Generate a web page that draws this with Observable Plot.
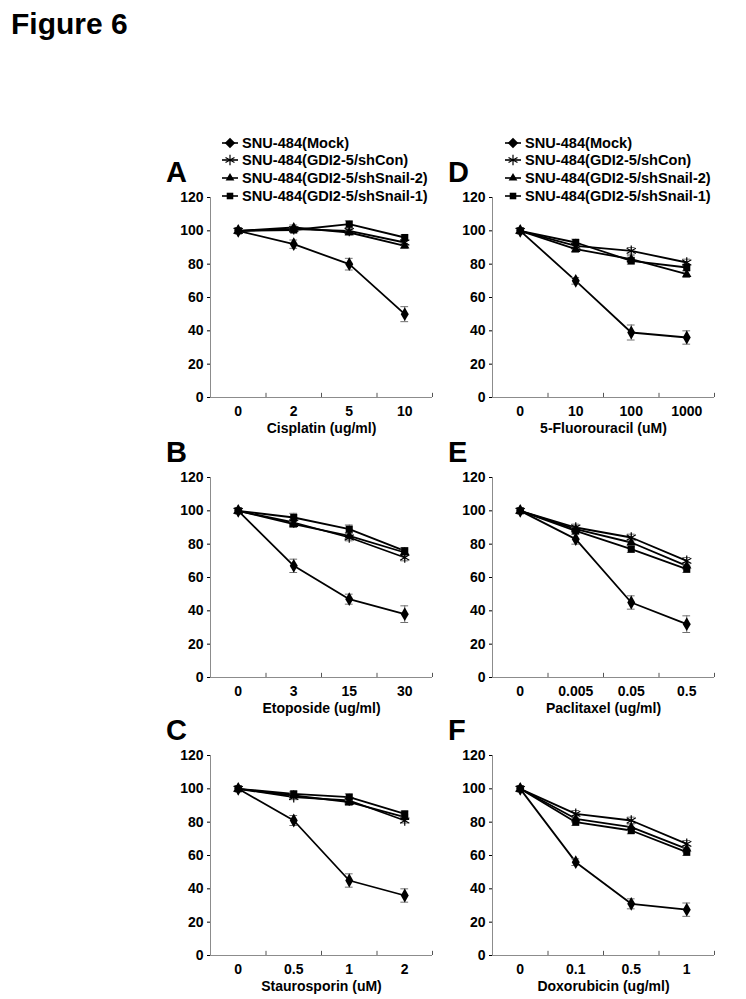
<!DOCTYPE html>
<html>
<head>
<meta charset="utf-8">
<script src="https://cdn.jsdelivr.net/npm/d3@7"></script>
<script src="https://cdn.jsdelivr.net/npm/@observablehq/plot@0.6"></script>
<style>
  html, body { margin: 0; padding: 0; background: #fff; }
  #page { position: relative; width: 746px; height: 999px; overflow: hidden; background: #fff;
    font-family: "Liberation Sans", Arial, Helvetica, sans-serif; font-weight: bold; color: #000; }
  .abs { position: absolute; }
  .title { font-size: 30px; line-height: 1; }
  .letter { font-size: 29px; line-height: 1; }
  .legend { font-size: 14.6px; }
  .legend .row { display: flex; align-items: center; height: 17.6px; white-space: nowrap; }
  .legend svg { margin-right: 3px; }
</style>
</head>
<body>
<div id="page"></div>
<script>
// ---------- data ----------
const figureTitle = "Figure 6";
const seriesNames = ["SNU-484(Mock)", "SNU-484(GDI2-5/shCon)", "SNU-484(GDI2-5/shSnail-2)", "SNU-484(GDI2-5/shSnail-1)"];
const seriesSymbols = ["diamond2", "asterisk", "triangle2", "square2"];
const panelLetters = ["A", "B", "C", "D", "E", "F"];
const drugLabels = ["Cisplatin (ug/ml)", "Etoposide (ug/ml)", "Staurosporin (uM)", "5-Fluorouracil (uM)", "Paclitaxel (ug/ml)", "Doxorubicin (ug/ml)"];
const doseLabels = [
  ["0", "2", "5", "10"],
  ["0", "3", "15", "30"],
  ["0", "0.5", "1", "2"],
  ["0", "10", "100", "1000"],
  ["0", "0.005", "0.05", "0.5"],
  ["0", "0.1", "0.5", "1"]
];
const yTicks = [0, 20, 40, 60, 80, 100, 120];

// survival (%) per series: Mock, shCon, shSnail-2, shSnail-1
const cisplatinValues = [[100, 92, 80, 50], [100, 101, 100, 93], [100, 102, 99, 91], [100, 100.5, 104, 96]];
const cisplatinErrors = [[1.5, 2.5, 3.5, 4.5], [1.5, 1.5, 1.5, 1.5], [1.5, 1.5, 1.5, 1.5], [1.5, 1.5, 2, 1.5]];
const etoposideValues = [[100, 67, 47, 38], [100, 93, 84, 72], [100, 92, 85, 75], [100, 96, 89, 76]];
const etoposideErrors = [[1.5, 4, 3, 5], [1.5, 2, 2, 2], [1.5, 2, 2, 2], [1.5, 2.5, 2.5, 2]];
const staurosporinValues = [[100, 81, 45, 36], [100, 95, 93, 81], [100, 96, 92, 83], [100, 97, 95, 85]];
const staurosporinErrors = [[1.5, 3, 4, 4], [1.5, 1.5, 2, 1.5], [1.5, 1.5, 2, 1.5], [1.5, 1.5, 2, 1.5]];
const fluorouracilValues = [[100, 70, 39, 36], [100, 91, 88, 81], [100, 89, 83, 74], [100, 93, 82, 78]];
const fluorouracilErrors = [[1.5, 2, 4.5, 4], [1.5, 2, 2, 2], [1.5, 2, 2, 2], [1.5, 2, 2, 2]];
const paclitaxelValues = [[100, 83, 45, 32], [100, 90, 84, 70], [100, 89, 81, 67], [100, 88, 77, 65]];
const paclitaxelErrors = [[1.5, 3, 4, 5], [1.5, 2, 2, 2], [1.5, 2, 2, 2], [1.5, 2, 2, 2]];
const doxorubicinValues = [[100, 56, 31, 27.5], [100, 85, 81, 67], [100, 82, 77, 64], [100, 80, 75, 62]];
const doxorubicinErrors = [[1.5, 2, 3, 4], [1.5, 2, 2, 2], [1.5, 2, 2, 2], [1.5, 2, 2, 2]];

const panelValues = [cisplatinValues, etoposideValues, staurosporinValues, fluorouracilValues, paclitaxelValues, doxorubicinValues];
const panelErrors = [cisplatinErrors, etoposideErrors, staurosporinErrors, fluorouracilErrors, paclitaxelErrors, doxorubicinErrors];

// ---------- layout ----------
const page = document.getElementById("page");
const FONT = '"Liberation Sans", Arial, Helvetica, sans-serif';
const colLeft = [160, 442];      // svg left per column
const rowTop = [185, 465, 743];  // svg top per row
const M = {left: 50, right: 16, top: 12, bottom: 48};
const innerW = 222, innerH = 200;

function addDiv(cls, text, left, top) {
  const d = document.createElement("div");
  d.className = "abs " + cls;
  d.textContent = text;
  d.style.left = left + "px";
  d.style.top = top + "px";
  page.appendChild(d);
  return d;
}

addDiv("title", figureTitle, 11, 9);

function legendBlock(left, top) {
  const box = document.createElement("div");
  box.className = "abs legend";
  box.style.left = left + "px";
  box.style.top = top + "px";
  seriesNames.forEach((name, k) => {
    const row = document.createElement("div");
    row.className = "row";
    const svg = d3.create("svg").attr("width", 18).attr("height", 14);
    svg.append("line").attr("x1", 1).attr("x2", 17).attr("y1", 7).attr("y2", 7)
      .attr("stroke", "#000").attr("stroke-width", 1.6);
    const sym = seriesSymbols[k];
    const d3sym = {diamond2: d3.symbolDiamond2, asterisk: d3.symbolAsterisk, triangle2: d3.symbolTriangle2, square2: d3.symbolSquare2}[sym];
    const size = sym === "asterisk" ? 75 : (sym === "diamond2" ? 70 : 55);
    const p = svg.append("path").attr("transform", "translate(9,7)").attr("d", d3.symbol(d3sym, size)());
    if (sym === "asterisk") p.attr("fill", "none").attr("stroke", "#000").attr("stroke-width", 1.2);
    else p.attr("fill", "#000");
    row.appendChild(svg.node());
    const t = document.createElement("span");
    t.textContent = name;
    row.appendChild(t);
    box.appendChild(row);
  });
  page.appendChild(box);
}

legendBlock(221, 134);
legendBlock(504, 134);

panelLetters.forEach((letter, p) => {
  const col = Math.floor(p / 3), row = p % 3;
  const left = colLeft[col], top = rowTop[row];
  addDiv("letter", letter, left + 6, top - 27);

  const labels = doseLabels[p];
  const n = labels.length;
  const data = [];
  panelValues[p].forEach((vals, s) => vals.forEach((v, i) => data.push({
    series: seriesNames[s], sym: seriesSymbols[s], i, v, e: panelErrors[p][s][i]
  })));

  const marks = [
    Plot.ruleY([0], {stroke: "#8c8c8c", strokeWidth: 1}),
    Plot.ruleX([-0.5], {stroke: "#8c8c8c", strokeWidth: 1}),
    Plot.ruleX(d3.range(n).map(i => i + 0.5), {y1: 0, y2: 2.5, stroke: "#555", strokeWidth: 1}),
    Plot.line(data, {x: "i", y: "v", z: "series", stroke: "#000", strokeWidth: 1.8}),
    Plot.ruleX(data, {x: "i", y1: d => d.v - d.e, y2: d => d.v + d.e, stroke: "#707070", strokeWidth: 1}),
    Plot.ruleY(data, {y: d => d.v - d.e, x1: d => d.i - 0.07, x2: d => d.i + 0.07, stroke: "#707070", strokeWidth: 1}),
    Plot.ruleY(data, {y: d => d.v + d.e, x1: d => d.i - 0.07, x2: d => d.i + 0.07, stroke: "#707070", strokeWidth: 1}),
    Plot.dot(data.filter(d => d.sym === "diamond2"), {x: "i", y: "v", symbol: "diamond", fill: "#000", stroke: "none", r: 4.2}),
    Plot.dot(data.filter(d => d.sym === "triangle2" || d.sym === "square2"), {x: "i", y: "v", symbol: "sym", fill: "#000", stroke: "none", r: 4.5}),
    Plot.dot(data.filter(d => d.sym === "asterisk"), {x: "i", y: "v", symbol: "sym", fill: "none", stroke: "#000", strokeWidth: 1.2, r: 5})
  ];

  const chart = Plot.plot({
    width: M.left + innerW + M.right,
    height: M.top + innerH + M.bottom,
    marginLeft: M.left, marginRight: M.right, marginTop: M.top, marginBottom: M.bottom,
    style: {fontFamily: FONT, fontSize: "14px", fontWeight: "bold", color: "#000", background: "transparent", overflow: "visible"},
    symbol: {type: "identity"},
    x: {
      type: "linear", domain: [-0.5, n - 0.5], ticks: d3.range(n), tickFormat: i => labels[i],
      tickSize: 0, tickPadding: 9, label: drugLabels[p], labelAnchor: "center", labelOffset: 35, labelArrow: "none"
    },
    y: {
      domain: [0, 120], ticks: yTicks, tickSize: 3, tickPadding: 4, label: null
    },
    marks
  });
  chart.style.position = "absolute";
  chart.style.left = left + "px";
  chart.style.top = top + "px";
  page.appendChild(chart);
});
</script>
</body>
</html>
